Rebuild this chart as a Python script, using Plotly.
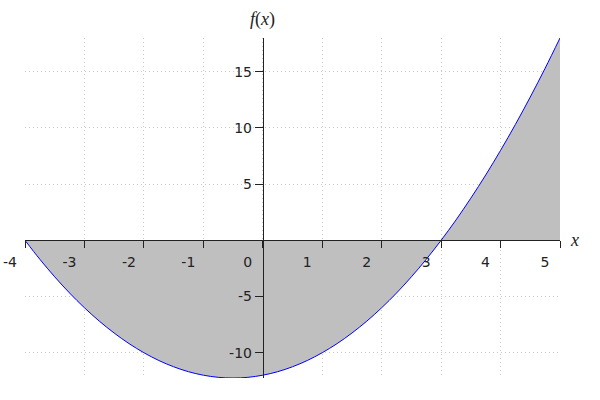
import plotly.graph_objects as go

# values
x_vals = [-4, -3.75, -3.5, -3.25, -3, -2.75, -2.5, -2.25, -2, -1.75, -1.5, -1.25, -1,
          -0.75, -0.5, -0.25, 0, 0.25, 0.5, 0.75, 1, 1.25, 1.5, 1.75, 2, 2.25, 2.5,
          2.75, 3, 3.25, 3.5, 3.75, 4, 4.25, 4.5, 4.75, 5]
y_vals = [0, -1.69, -3.25, -4.69, -6, -7.19, -8.25, -9.19, -10, -10.69, -11.25, -11.69, -12,
          -12.19, -12.25, -12.19, -12, -11.69, -11.25, -10.69, -10, -9.19, -8.25, -7.19, -6,
          -4.69, -3.25, -1.69, 0, 1.81, 3.75, 5.81, 8, 10.31, 12.75, 15.31, 18]
x_ticks = [-4, -3, -2, -1, 0, 1, 2, 3, 4, 5]
y_ticks = [-10, -5, 5, 10, 15]
x_range = [-4, 5]
y_range = [-12.25, 18]

fig = go.Figure()
fig.add_trace(go.Scatter(
    x=x_vals, y=y_vals, mode="lines", line=dict(color="#0000ff", width=1, shape="spline"),
    fill="tozeroy", fillcolor="#bfbfbf", hoverinfo="skip", showlegend=False))

xpos = (0 - y_range[0]) / (y_range[1] - y_range[0])
ypos = (0 - x_range[0]) / (x_range[1] - x_range[0])

tickfont = dict(family="DejaVu Sans", size=14, color="#222222")

fig.update_layout(
    width=600, height=400,
    margin=dict(l=25, r=40, t=38, b=22),
    paper_bgcolor="white", plot_bgcolor="white",
    xaxis=dict(range=x_range, tickvals=x_ticks, ticktext=[str(v) for v in x_ticks],
               showgrid=True, gridcolor="#c8c8c8", griddash="1px,3px", gridwidth=1,
               zeroline=False, showline=True, linecolor="#222222", linewidth=1,
               ticks="outside", ticklen=7, tickcolor="#222222", automargin=False,
               anchor="free", position=xpos, tickfont=tickfont, ticklabelshift=-15,
               ticklabelstandoff=2, ticklabeloverflow="allow"),
    yaxis=dict(range=y_range, tickvals=y_ticks, ticktext=[str(v) for v in y_ticks],
               showgrid=True, gridcolor="#c8c8c8", griddash="1px,3px", gridwidth=1,
               zeroline=False, showline=True, linecolor="#222222", linewidth=1,
               ticks="outside", ticklen=8, tickcolor="#222222", automargin=False,
               anchor="free", position=ypos, tickfont=tickfont, ticklabeloverflow="allow"),
    annotations=[
        dict(text="<i>x</i>", x=1, y=0, xref="paper", yref="y", showarrow=False,
             xanchor="center", xshift=14,
             font=dict(family="Liberation Serif", size=18, color="#222222")),
        dict(text="<i>f</i>(<i>x</i>)", x=0, y=1, xref="x", yref="paper", showarrow=False,
             yanchor="bottom", yshift=6,
             font=dict(family="Liberation Serif", size=18, color="#222222")),
    ],
)

fig.write_html("out.html", config={"displayModeBar": False},
               post_script="document.body.style.margin='0px';")
